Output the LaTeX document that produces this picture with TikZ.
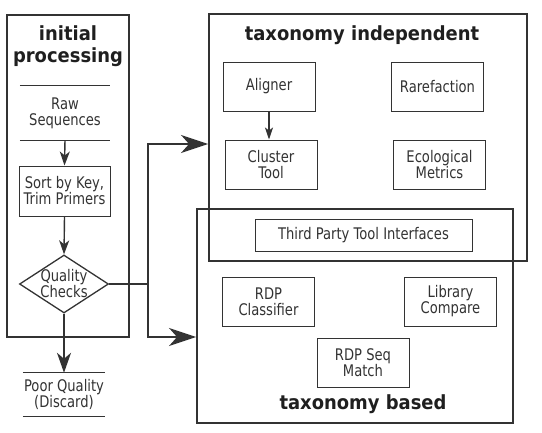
\documentclass[tikz,border=0pt]{standalone}
\usepackage{fontspec}
\setmainfont{DejaVu Sans}[FakeStretch=0.82]
\newfontfamily\titlefont{DejaVu Sans}[FakeStretch=0.92]
\usetikzlibrary{shapes.geometric,arrows.meta}
\definecolor{ink}{HTML}{333333}
\begin{document}
\begin{tikzpicture}[x=1pt,y=-1pt,
  txt/.style={text=ink, font=\fontsize{16}{16}\selectfont, align=center},
  box/.style={txt, draw=ink, line width=1pt, inner sep=0pt, minimum width=92pt, minimum height=49pt},
  store/.style={txt, inner sep=0pt},
  storeline/.style={draw=ink, line width=1.2pt},
  group/.style={draw=ink, line width=1.9pt, inner sep=0pt},
  title/.style={text=black!88, font=\titlefont\fontsize{19.5}{22}\selectfont\bfseries, align=center},
  conn/.style={draw=ink, line width=1.8pt},
  bigtip/.style={-{Stealth[length=27pt,width=18pt,inset=8pt]}},
  smalltip/.style={draw=ink, line width=1.4pt, -{Stealth[length=14pt,width=10pt,inset=4pt]}},
]
\useasboundingbox[fill=white] (0,0) rectangle (542,432);

% initial processing
\node[group, minimum width=122pt, minimum height=322pt] (ip) at (68,176) {};
\node[title] (ipt) at (68,46) {initial\\processing};
\node[store, minimum width=90pt, minimum height=54pt] (raw) at (65,113) {Raw\\Sequences};
\draw[storeline] (raw.north west) -- (raw.north east);
\draw[storeline] (raw.south west) -- (raw.south east);
\node[box, minimum width=91pt, minimum height=50pt] (sort) at (64.5,191) {Sort by Key,\\Trim Primers};
\node[diamond, draw=ink, line width=1.3pt, inner sep=0pt, minimum width=89pt, minimum height=58pt,
      label={[txt]center:{Quality\\Checks}}] (qc) at (64,284) {};
\node[store, minimum width=82pt, minimum height=43pt] (poor) at (64,394.5) {Poor Quality\\(Discard)};
\draw[storeline] (poor.north west) -- (poor.north east);
\draw[storeline] (poor.south west) -- (poor.south east);

\draw[smalltip] (raw.south) -- (sort.north);
\draw[smalltip] (sort.south) -- (qc.north);
\draw[draw=ink, line width=1.6pt, -{Stealth[length=20pt,width=14pt,inset=6pt]}] (qc.south) -- (poor.north);

% taxonomy independent
\node[group, minimum width=318pt, minimum height=247pt] (ti) at (368,137.5) {};
\node[title] (tit) at (362,35) {taxonomy independent};
\node[box] (aligner) at (269,86.5) {Aligner};
\node[box] (rare) at (437.5,86.5) {Rarefaction};
\node[box] (clus) at (271,164.5) {Cluster\\Tool};
\node[box] (eco) at (439.5,164.5) {Ecological\\Metrics};
\draw[draw=ink, line width=1.3pt, -{Stealth[length=12pt,width=8pt,inset=3pt]}] (aligner.south) -- (aligner.south |- clus.north);

% taxonomy based
\node[group, minimum width=316pt, minimum height=214pt] (tb) at (355,316) {};
\node[box, minimum width=217pt, minimum height=32pt] (tp) at (363.5,235) {Third Party Tool Interfaces};
\node[box] (rdpc) at (268.5,301.5) {RDP\\Classifier};
\node[box] (lib) at (450.5,301.5) {Library\\Compare};
\node[box] (seq) at (363,362.5) {RDP Seq\\Match};
\node[title] (tbt) at (363,404) {taxonomy based};

% main connectors
\coordinate (j) at (148,284);
\coordinate (ja) at (148,144);
\coordinate (jb) at (148,337);
\draw[conn] (qc.east) -- (j);
\draw[conn, bigtip] (j) -- (ja) -- (ja -| ti.west);
\draw[conn, bigtip] (j) -- (jb) -- (jb -| tb.west);
\end{tikzpicture}
\end{document}
